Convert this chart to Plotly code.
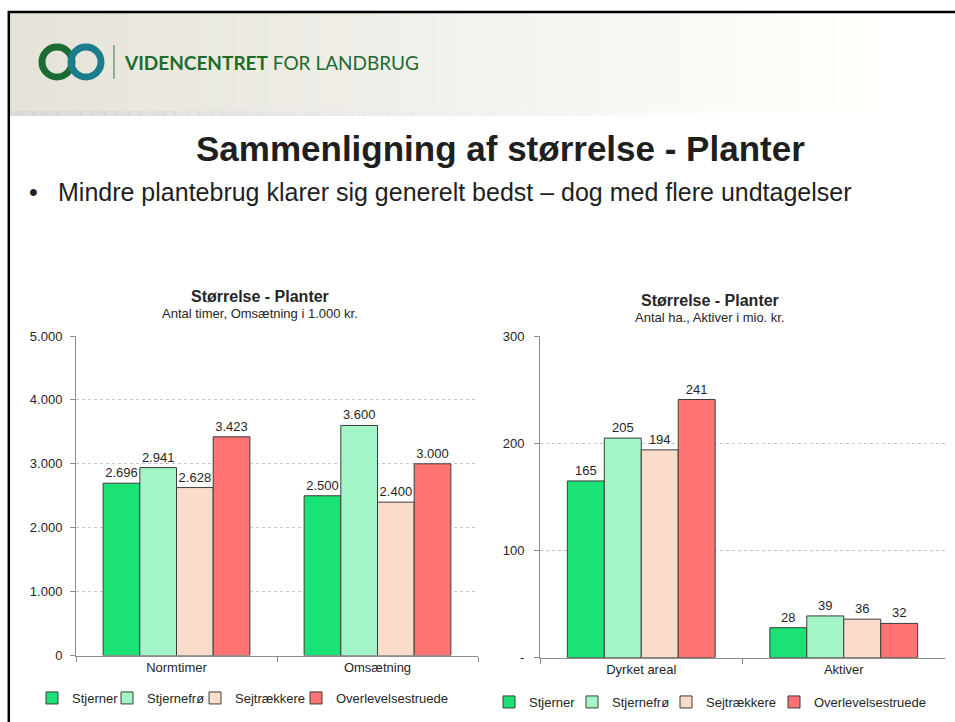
import plotly.graph_objects as go

W, H = 955, 722
FONT = "Arial, 'Liberation Sans', sans-serif"
TXT = "#262626"
AXIS = "#8c8c8c"

# ---- data -----------------------------------------------------------------
series_names = ["Stjerner", "Stjernefrø", "Sejtrækkere", "Overlevelsestruede"]
series_colors = ["#1be274", "#a3f5c8", "#fadccb", "#ff7373"]

left_categories = ["Normtimer", "Omsætning"]
left_stjerner = [2696, 2500]
left_stjernefro = [2941, 3600]
left_sejtraekkere = [2628, 2400]
left_overlevelsestruede = [3423, 3000]

right_categories = ["Dyrket areal", "Aktiver"]
right_stjerner = [165, 28]
right_stjernefro = [205, 39]
right_sejtraekkere = [194, 36]
right_overlevelsestruede = [241, 32]

left_tickvals = [0, 1000, 2000, 3000, 4000, 5000]
right_tickvals = [0, 100, 200, 300]
right_ticktext = ["-", "100", "200", "300"]

left_series = [left_stjerner, left_stjernefro, left_sejtraekkere, left_overlevelsestruede]
right_series = [right_stjerner, right_stjernefro, right_sejtraekkere, right_overlevelsestruede]

# left edge (px) of each legend entry, one entry per legend box
left_legend_x = [32, 107, 195, 296]
right_legend_x = [489, 572, 666, 774]


def px(x):
    return x / W


def py(y):
    return 1 - y / H


fig = go.Figure()

legend_ids = ["legend"] + ["legend%d" % k for k in range(2, 9)]

for i, (name, color, vals) in enumerate(zip(series_names, series_colors, left_series)):
    fig.add_trace(go.Bar(
        x=left_categories, y=vals, name=name, legend=legend_ids[i],
        marker=dict(color=color, line=dict(color="#3c3c3c", width=1)),
        texttemplate="%{y:,.0f}", textposition="outside",
        textfont=dict(family=FONT, size=13, color=TXT),
        cliponaxis=False, xaxis="x", yaxis="y", hoverinfo="skip",
    ))

for i, (name, color, vals) in enumerate(zip(series_names, series_colors, right_series)):
    fig.add_trace(go.Bar(
        x=right_categories, y=vals, name=name, legend=legend_ids[4 + i],
        marker=dict(color=color, line=dict(color="#3c3c3c", width=1)),
        texttemplate="%{y:,.0f}", textposition="outside",
        textfont=dict(family=FONT, size=13, color=TXT),
        cliponaxis=False, xaxis="x2", yaxis="y2", hoverinfo="skip",
    ))

xaxis_common = dict(
    type="category", showline=True, linecolor=AXIS, linewidth=1,
    ticks="outside", tickson="boundaries", ticklen=5, tickcolor=AXIS,
    showgrid=False, tickfont=dict(family=FONT, size=13, color=TXT),
    range=[-0.5, 1.5], fixedrange=True, automargin=False,
)
yaxis_common = dict(
    showline=True, linecolor=AXIS, linewidth=1, ticks="outside", ticklen=5,
    tickcolor=AXIS, showgrid=True, gridcolor="#c4c4c4", griddash="dot",
    gridwidth=1, zeroline=False, tickfont=dict(family=FONT, size=13, color=TXT),
    fixedrange=True, automargin=False,
)

shapes = []
annotations = []

# header band with a soft horizontal fade
n_strips = 80
x0, x1 = 10, 955
c0, c1 = (229, 227, 217), (255, 255, 253)
for i in range(n_strips):
    t = i / (n_strips - 1)
    tt = min(1.0, t * 1.08)
    col = tuple(round(a + (b - a) * tt) for a, b in zip(c0, c1))
    xa = x0 + (x1 - x0) * i / n_strips
    xb = x0 + (x1 - x0) * (i + 1) / n_strips + 0.6
    shapes.append(dict(type="rect", xref="paper", yref="paper",
                       x0=px(xa), x1=px(xb), y0=py(111), y1=py(13),
                       line=dict(width=0), fillcolor="rgb(%d,%d,%d)" % col, layer="below"))
    # shadow under the header, fading out to the right
    alpha = max(0.0, 0.35 * (1 - t * 1.3))
    if alpha > 0:
        shapes.append(dict(type="rect", xref="paper", yref="paper",
                           x0=px(xa), x1=px(xb), y0=py(116), y1=py(111),
                           line=dict(width=0), fillcolor="rgba(150,150,140,%.3f)" % alpha,
                           layer="below"))

# slide frame (top and left edges)
shapes.append(dict(type="line", xref="paper", yref="paper", x0=px(8), x1=1.02,
                   y0=py(12), y1=py(12), line=dict(color="black", width=2.5)))
shapes.append(dict(type="line", xref="paper", yref="paper", x0=px(8.8), x1=px(8.8),
                   y0=py(11), y1=-0.02, line=dict(color="black", width=2.5)))

# logo rings and separator
shapes.append(dict(type="circle", xref="paper", yref="paper",
                   x0=px(57 - 15), x1=px(57 + 15), y0=py(62 + 15), y1=py(62 - 15),
                   line=dict(color="#1d6b34", width=7)))
shapes.append(dict(type="circle", xref="paper", yref="paper",
                   x0=px(86 - 15), x1=px(86 + 15), y0=py(62 + 15), y1=py(62 - 15),
                   line=dict(color="#1b7c8c", width=7)))
shapes.append(dict(type="line", xref="paper", yref="paper", x0=px(114), x1=px(114),
                   y0=py(45), y1=py(79), line=dict(color="#4f8a5a", width=1.2)))

annotations.append(dict(
    xref="paper", yref="paper", x=px(122), y=py(63), xanchor="left", yanchor="middle",
    text="<b>VIDENCENTRET</b> FOR LANDBRUG", showarrow=False,
    font=dict(family="Lato, 'Open Sans', sans-serif", size=19, color="#1e6b2e")))

# slide title and bullet
annotations.append(dict(
    xref="paper", yref="paper", x=px(500), y=py(148), xanchor="center", yanchor="middle",
    text="<b>Sammenligning af størrelse - Planter</b>", showarrow=False,
    font=dict(family=FONT, size=35, color="#1f1f1f")))
annotations.append(dict(
    xref="paper", yref="paper", x=px(33), y=py(192), xanchor="center", yanchor="middle",
    text="•", showarrow=False, font=dict(family=FONT, size=25, color="#1f1f1f")))
annotations.append(dict(
    xref="paper", yref="paper", x=px(56), y=py(192), xanchor="left", yanchor="middle",
    text="Mindre plantebrug klarer sig generelt bedst – dog med flere undtagelser",
    showarrow=False, font=dict(family=FONT, size=25, color="#1f1f1f")))

# chart titles
for cx, ty, sy, sub in [(260, 297, 313, "Antal timer, Omsætning i 1.000 kr."),
                        (710, 300, 317, "Antal ha., Aktiver i mio. kr.")]:
    annotations.append(dict(
        xref="paper", yref="paper", x=px(cx), y=py(ty), xanchor="center", yanchor="middle",
        text="<b>Størrelse - Planter</b>", showarrow=False,
        font=dict(family=FONT, size=16, color=TXT)))
    annotations.append(dict(
        xref="paper", yref="paper", x=px(cx), y=py(sy), xanchor="center", yanchor="middle",
        text=sub, showarrow=False, font=dict(family=FONT, size=13, color=TXT)))

legend_common = dict(
    orientation="h", xanchor="left", yanchor="middle", bgcolor="rgba(0,0,0,0)",
    font=dict(family=FONT, size=13, color=TXT), itemwidth=30, tracegroupgap=0,
    itemclick=False, itemdoubleclick=False, borderwidth=0,
)
legends = {}
for k, lx in enumerate(left_legend_x + right_legend_x):
    ly = 698 if k < 4 else 702
    legends[legend_ids[k]] = dict(legend_common, x=px(lx), y=py(ly))

fig.update_layout(
    template="none",
    width=W, height=H, autosize=False,
    margin=dict(l=0, r=0, t=0, b=0, pad=0, autoexpand=False),
    paper_bgcolor="white", plot_bgcolor="white",
    separators=",.",
    barmode="group", bargap=0.27, bargroupgap=0,
    font=dict(family=FONT, size=13, color=TXT),
    xaxis=dict(xaxis_common, domain=[px(76), px(478)], anchor="y"),
    yaxis=dict(yaxis_common, domain=[py(655.5), py(336)], anchor="x",
               range=[0, 5000], tickvals=left_tickvals, tickformat=",.0f",
               ticklabelstandoff=5),
    xaxis2=dict(xaxis_common, domain=[px(540), px(945)], anchor="y2"),
    yaxis2=dict(yaxis_common, domain=[py(657.7), py(336.3)], anchor="x2",
                range=[0, 300], tickvals=right_tickvals, ticktext=right_ticktext,
                ticklabelstandoff=7),
    shapes=shapes, annotations=annotations,
    showlegend=True,
    **legends,
)

# page chrome: the figure fills the window exactly
page_script = (
    "var r=document.documentElement.style;r.margin='0';r.padding='0';r.overflow='hidden';"
    "var b=document.body.style;b.margin='0';b.padding='0';b.overflow='hidden';"
)

fig.write_html("out.html", post_script=page_script,
               config={"displayModeBar": False, "staticPlot": True})
